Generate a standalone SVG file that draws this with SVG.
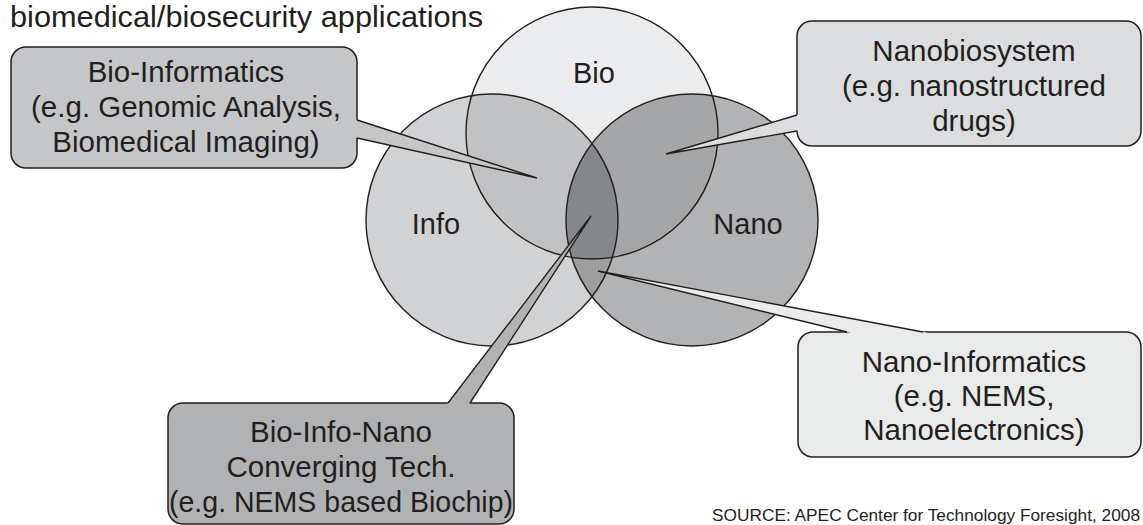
<svg xmlns="http://www.w3.org/2000/svg" width="1143" height="525" viewBox="0 0 1143 525">
<style>
text{font-family:"Liberation Sans",Arial,sans-serif;fill:#231f20;}
.t{font-size:30px;}
.lbl{font-size:29px;text-anchor:middle;}
.cl{font-size:29.5px;text-anchor:middle;}
.src{font-size:17px;}
.ol{fill:none;stroke:#231f20;stroke-width:1.4;}
.box{stroke:#231f20;stroke-width:1.5;}
.wl{fill:none;stroke:#231f20;stroke-width:1.4;stroke-linejoin:miter;}
</style>
<defs>
<clipPath id="cBio"><circle cx="592" cy="133" r="126"/></clipPath>
<clipPath id="cInfo"><circle cx="492" cy="220" r="126"/></clipPath>
</defs>
<rect width="1143" height="525" fill="#ffffff"/>
<text class="t" x="10" y="27" textLength="473" lengthAdjust="spacingAndGlyphs">biomedical/biosecurity applications</text>

<g id="venn">
<g id="node-info"><circle cx="492" cy="220" r="126" fill="#d1d2d4"/></g>
<g id="node-nano"><circle cx="692" cy="220" r="126" fill="#b2b3b5"/></g>
<g id="node-bio"><circle cx="592" cy="133" r="126" fill="#ebeced"/></g>
<g id="overlaps">
<circle cx="692" cy="220" r="126" fill="#9c9ea0" clip-path="url(#cInfo)"/>
<circle cx="492" cy="220" r="126" fill="#c1c2c4" clip-path="url(#cBio)"/>
<circle cx="692" cy="220" r="126" fill="#a4a6a7" clip-path="url(#cBio)"/>
<g clip-path="url(#cBio)"><circle cx="692" cy="220" r="126" fill="#85888a" clip-path="url(#cInfo)"/></g>
</g>
<g id="outlines">
<circle class="ol" cx="492" cy="220" r="126"/>
<circle class="ol" cx="692" cy="220" r="126"/>
<circle class="ol" cx="592" cy="133" r="126"/>
</g>
<text class="lbl" x="594" y="83">Bio</text>
<text class="lbl" x="436" y="234">Info</text>
<text class="lbl" x="748" y="234">Nano</text>
</g>

<g id="callout-bioinformatics">
<rect class="box" x="11" y="47" width="346" height="121" rx="15" fill="#c5c6c8"/>
<text class="cl" x="186" y="82">Bio-Informatics</text>
<text class="cl" x="186" y="117">(e.g. Genomic Analysis,</text>
<text class="cl" x="186" y="152">Biomedical Imaging)</text>
</g>

<g id="callout-nanobiosystem">
<rect class="box" x="797" y="21" width="344" height="125" rx="15" fill="#dcdddf"/>
<text class="cl" x="974" y="61">Nanobiosystem</text>
<text class="cl" x="974" y="96">(e.g. nanostructured</text>
<text class="cl" x="974" y="131">drugs)</text>
</g>

<g id="callout-nanoinformatics">
<rect class="box" x="798" y="332" width="343" height="125" rx="15" fill="#e9eaea"/>
<text class="cl" x="974" y="372">Nano-Informatics</text>
<text class="cl" x="974" y="406">(e.g. NEMS,</text>
<text class="cl" x="974" y="440">Nanoelectronics)</text>
</g>

<g id="callout-bioinfonano">
<rect class="box" x="168" y="403" width="346" height="121" rx="15" fill="#b1b2b4"/>
<text class="cl" x="341" y="442">Bio-Info-Nano</text>
<text class="cl" x="341" y="477">Converging Tech.</text>
<text class="cl" x="341" y="512" textLength="344" lengthAdjust="spacingAndGlyphs">(e.g. NEMS based Biochip)</text>
</g>

<g id="connectors">
<polygon points="354,119 537,178 354,137.3" fill="#c5c6c8"/>
<path class="wl" d="M357,120 L537,178 L357,138"/>
<polygon points="800,114.1 666,154 800,130.5" fill="#dcdddf"/>
<path class="wl" d="M797,115 L666,154 L797,131"/>
<polygon points="859.2,335 598,271 939,335" fill="#e9eaea"/>
<path class="wl" d="M847,332 L598,271 L923,332"/>
<polygon points="445.7,406 591,216 468.1,406" fill="#b1b2b4"/>
<path class="wl" d="M448,403 L591,216 L470,403"/>
</g>

<text class="src" x="712" y="521" textLength="428" lengthAdjust="spacingAndGlyphs">SOURCE: APEC Center for Technology Foresight, 2008</text>
</svg>
